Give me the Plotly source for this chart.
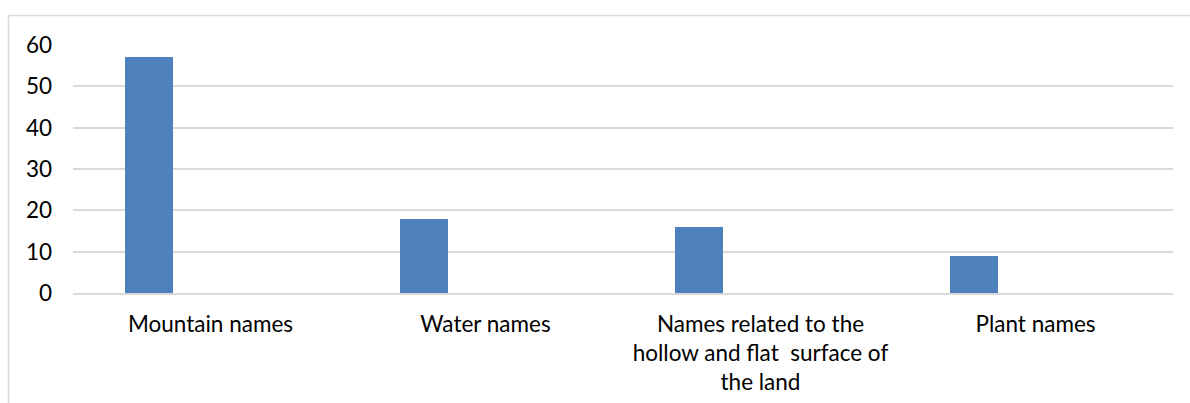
import plotly.graph_objects as go

categories = [
    "Mountain names",
    "Water names",
    "Names related to the<br>hollow and flat\u00a0 surface of<br>the land",
    "Plant names",
]
values = [57, 18, 16, 9]
y_ticks = [0, 10, 20, 30, 40, 50, 60]

W, H = 1190, 403
ML, MR, MT, MB = 73, 17, 45, 110
plot_w = W - ML - MR
plot_h = H - MT - MB

grid_color = "#d9d9d9"
font = dict(family="Lato, Open Sans, sans-serif", size=22.5, color="#000000")

fig = go.Figure(
    go.Bar(
        x=categories,
        y=values,
        width=0.175,
        offset=-0.31,
        marker=dict(color="#4f81bd", line=dict(width=0)),
        hoverinfo="x+y",
    )
)

# outer chart frame, open at the right and bottom edges
fig.add_shape(
    type="rect",
    xref="paper", yref="paper",
    x0=(8.5 - ML) / plot_w, x1=(W + 10 - ML) / plot_w,
    y0=(MT + plot_h - (H + 10)) / plot_h, y1=(MT + plot_h - 15.5) / plot_h,
    line=dict(color=grid_color, width=1.5),
    fillcolor="rgba(0,0,0,0)",
    layer="below",
)

fig.update_layout(
    width=W, height=H,
    margin=dict(l=ML, r=MR, t=MT, b=MB, pad=0, autoexpand=False),
    paper_bgcolor="white",
    plot_bgcolor="white",
    showlegend=False,
    font=font,
    bargap=0,
)
fig.update_xaxes(
    type="category",
    range=[-0.5, 3.5],
    automargin=False,
    showgrid=False,
    showline=True,
    linecolor=grid_color,
    linewidth=1.5,
    ticks="",
    tickfont=font,
    ticklabelstandoff=10,
    fixedrange=True,
)
fig.update_yaxes(
    range=[0, 60],
    tickvals=y_ticks,
    automargin=False,
    showgrid=True,
    gridcolor=grid_color,
    gridwidth=1.5,
    zeroline=False,
    showline=False,
    ticks="",
    tickfont=font,
    ticklabelstandoff=20,
    fixedrange=True,
)

fig.write_html("out.html", config={"displayModeBar": False})
